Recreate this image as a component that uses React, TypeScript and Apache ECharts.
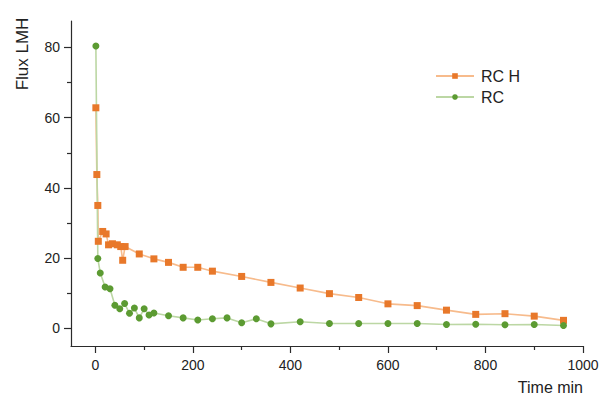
import React, { useEffect, useRef } from "react";
import * as echarts from "echarts";

const seriesNames = ["RC H", "RC"];

const rcHTime = [1, 3, 5, 6, 15, 22, 27, 35, 45, 52, 56, 61, 90, 120, 150, 180, 210, 240, 300, 360, 420, 480, 540, 600, 660, 720, 780, 840, 900, 960];
const rcHFlux = [62.8, 43.8, 35.0, 24.8, 27.6, 26.9, 23.8, 24.1, 23.8, 23.3, 19.4, 23.3, 21.2, 19.8, 18.8, 17.4, 17.4, 16.3, 14.8, 13.1, 11.5, 9.9, 8.8, 7.0, 6.5, 5.2, 4.0, 4.2, 3.5, 2.3];

const rcTime = [1, 5, 10, 20, 30, 40, 50, 60, 70, 80, 90, 100, 110, 120, 150, 180, 210, 240, 270, 300, 330, 360, 420, 480, 540, 600, 660, 720, 780, 840, 900, 960];
const rcFlux = [80.4, 19.9, 15.8, 11.8, 11.3, 6.6, 5.6, 7.1, 4.3, 5.8, 3.0, 5.6, 3.8, 4.4, 3.6, 3.0, 2.4, 2.75, 3.0, 1.6, 2.75, 1.3, 1.9, 1.4, 1.4, 1.4, 1.4, 1.1, 1.2, 1.05, 1.1, 0.85];

const xMajorTicks = [0, 200, 400, 600, 800, 1000];
const xMinorTicks = [100, 300, 500, 700, 900];
const yMajorTicks = [0, 20, 40, 60, 80];
const yMinorTicks = [10, 30, 50, 70];

const xTitle = "Time min";
const yTitle = "Flux LMH";

const FONT = '"Liberation Sans", Arial, sans-serif';
const AXIS_COLOR = "#2b2b2b";
const TEXT_COLOR = "#222";

export default function App() {
  const ref = useRef<HTMLDivElement>(null);

  useEffect(() => {
    if (!ref.current) return;
    const chart = echarts.init(ref.current, undefined, { renderer: "svg" });

    const zip = (xs: number[], ys: number[]) => xs.map((x, i) => [x, ys[i]]);
    const plain = (v: number) => String(v);

    const xBase = {
      type: "value",
      min: -50,
      max: 1000,
      position: "bottom",
      splitLine: { show: false },
    };
    const yBase = {
      type: "value",
      min: -5,
      max: 87.5,
      position: "left",
      splitLine: { show: false },
    };

    const option: any = {
      animation: false,
      backgroundColor: "#ffffff",
      grid: { left: 71, right: 25, top: 21, bottom: 51, containLabel: false },
      xAxis: [
        {
          ...xBase,
          axisLine: { show: true, onZero: false, lineStyle: { color: AXIS_COLOR, width: 1.2 } },
          axisTick: { show: true, inside: false, customValues: xMajorTicks, length: 7, lineStyle: { color: AXIS_COLOR, width: 1.2 } },
          axisLabel: { show: true, customValues: xMajorTicks, formatter: plain, fontSize: 14, color: TEXT_COLOR, margin: 12, fontFamily: FONT },
        },
        {
          ...xBase,
          axisLine: { show: false, onZero: false },
          axisTick: { show: true, inside: false, customValues: xMinorTicks, length: 4, lineStyle: { color: AXIS_COLOR, width: 1.2 } },
          axisLabel: { show: false },
        },
      ],
      yAxis: [
        {
          ...yBase,
          axisLine: { show: true, onZero: false, lineStyle: { color: AXIS_COLOR, width: 1.2 } },
          axisTick: { show: true, inside: false, customValues: yMajorTicks, length: 7, lineStyle: { color: AXIS_COLOR, width: 1.2 } },
          axisLabel: { show: true, customValues: yMajorTicks, formatter: plain, fontSize: 14, color: TEXT_COLOR, margin: 11, fontFamily: FONT },
        },
        {
          ...yBase,
          axisLine: { show: false, onZero: false },
          axisTick: { show: true, inside: false, customValues: yMinorTicks, length: 4, lineStyle: { color: AXIS_COLOR, width: 1.2 } },
          axisLabel: { show: false },
        },
      ],
      legend: {
        data: seriesNames,
        orient: "vertical",
        left: 435,
        top: 68,
        padding: 0,
        itemWidth: 38,
        itemHeight: 7,
        itemGap: 5,
        textStyle: { fontSize: 16, color: TEXT_COLOR, fontFamily: FONT, lineHeight: 16, padding: [0, 0, 0, 2] },
      },
      graphic: [
        {
          type: "text",
          x: 22,
          y: 54,
          rotation: Math.PI / 2,
          style: {
            text: yTitle,
            fontSize: 17,
            fontFamily: FONT,
            fill: TEXT_COLOR,
            textAlign: "center",
            textVerticalAlign: "middle",
          },
        },
        {
          type: "text",
          x: 583,
          y: 387,
          style: {
            text: xTitle,
            fontSize: 16,
            fontFamily: FONT,
            fill: TEXT_COLOR,
            textAlign: "right",
            textVerticalAlign: "middle",
          },
        },
      ],
      series: [
        {
          name: seriesNames[0],
          type: "line",
          xAxisIndex: 0,
          yAxisIndex: 0,
          data: zip(rcHTime, rcHFlux),
          symbol: "rect",
          symbolSize: 7,
          clip: false,
          lineStyle: { color: "#f7bb8c", width: 1.6 },
          itemStyle: { color: "#e8782a" },
        },
        {
          name: seriesNames[1],
          type: "line",
          xAxisIndex: 0,
          yAxisIndex: 0,
          data: zip(rcTime, rcFlux),
          symbol: "circle",
          symbolSize: 7,
          clip: false,
          lineStyle: { color: "#bcd7a4", width: 1.6 },
          itemStyle: { color: "#5c9b32" },
        },
      ],
    };

    chart.setOption(option);
    return () => chart.dispose();
  }, []);

  return (
    <div
      ref={ref}
      style={{ position: "fixed", left: 0, top: 0, width: 608, height: 397, background: "#fff" }}
    />
  );
}
